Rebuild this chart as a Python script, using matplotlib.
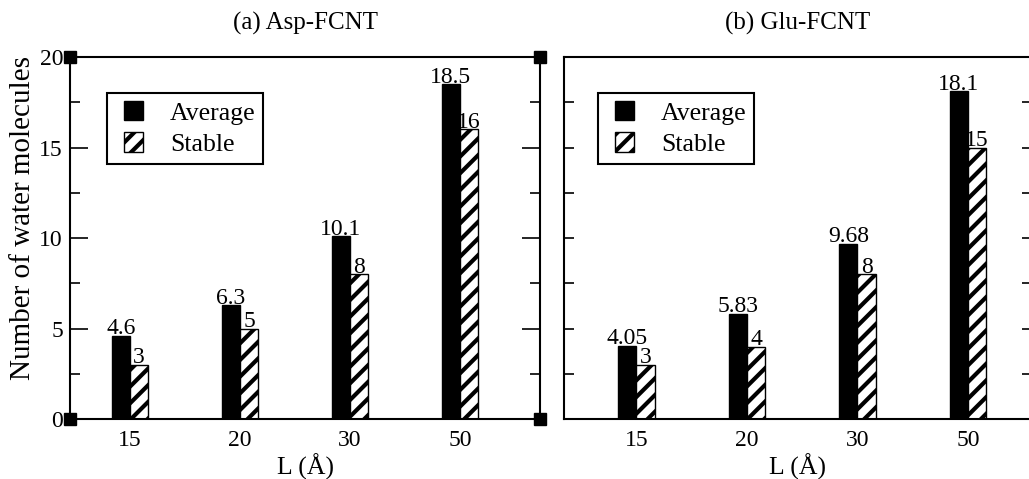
import numpy as np
import matplotlib
matplotlib.use("Agg")
import matplotlib.pyplot as plt
import matplotlib.patches as mpatches
from matplotlib.legend_handler import HandlerPatch

plt.rcParams['font.family'] = ['Liberation Serif', 'DejaVu Serif']
plt.rcParams['hatch.linewidth'] = 3.0

lengths = ['15', '20', '30', '50']
asp_average = [4.6, 6.3, 10.1, 18.5]
asp_stable = [3, 5, 8, 16]
glu_average = [4.05, 5.83, 9.68, 18.1]
glu_stable = [3, 4, 8, 15]

asp_avg_labels = ['4.6', '6.3', '10.1', '18.5']
asp_stb_labels = ['3', '5', '8', '16']
glu_avg_labels = ['4.05', '5.83', '9.68', '18.1']
glu_stb_labels = ['3', '4', '8', '15']

fig = plt.figure(figsize=(10.29, 4.79), dpi=100)
ax1 = fig.add_axes([0.068, 0.125, 0.457, 0.756])
ax2 = fig.add_axes([0.548, 0.125, 0.455, 0.756])

x = np.arange(len(lengths))
w = 0.165


# square legend key pushed to the right end of the handle box
def square_key(legend, orig_handle, xdescent, ydescent, width, height, fontsize):
    return mpatches.Rectangle((-xdescent + width - height, -ydescent), height, height)


def draw_panel(ax, avg, stb, avg_lab, stb_lab, title, legend_x, xlim, major_len):
    b1 = ax.bar(x - w / 2, avg, w, color='black', edgecolor='black', lw=1)
    b2 = ax.bar(x + w / 2, stb, w, color='white', edgecolor='black', lw=1, hatch='//')
    for rect, s in zip(b1, avg_lab):
        ax.text(rect.get_x() + rect.get_width() / 2, rect.get_height() - 0.2, s,
                ha='center', va='bottom', fontsize=17)
    for rect, s in zip(b2, stb_lab):
        ax.text(rect.get_x() + rect.get_width() / 2, rect.get_height() - 0.2, s,
                ha='center', va='bottom', fontsize=17)

    ax.set_xlim(*xlim)
    ax.set_ylim(0, 20)
    ax.set_xticks(x)
    ax.set_xticklabels(lengths)
    ax.set_yticks([0, 5, 10, 15, 20])
    ax.set_yticks(np.arange(2.5, 20, 5), minor=True)
    ax.tick_params(axis='x', length=0, pad=8, labelsize=17)
    ax.tick_params(axis='y', which='major', direction='in', length=major_len, width=1.2,
                   left=True, right=True, labelsize=17, pad=5)
    ax.tick_params(axis='y', which='minor', direction='in', length=7, width=1.2,
                   left=True, right=True)
    for sp in ax.spines.values():
        sp.set_linewidth(1.5)
    ax.set_xlabel('L (Å)', fontsize=18.5, labelpad=2)
    ax.set_title(title, fontsize=18, pad=20)

    leg = ax.legend([b1.patches[0], b2.patches[0]], ['Average', 'Stable'],
                    loc='upper left', bbox_to_anchor=(legend_x, 0.90), borderaxespad=0,
                    fontsize=18.5, fancybox=False, edgecolor='black', framealpha=1,
                    handlelength=1.1, handleheight=0.78, handletextpad=1.05,
                    borderpad=0.3, labelspacing=0.3,
                    handler_map={mpatches.Rectangle: HandlerPatch(patch_func=square_key)})
    leg.get_frame().set_linewidth(1.5)


draw_panel(ax1, asp_average, asp_stable, asp_avg_labels, asp_stb_labels,
           '(a) Asp-FCNT', 0.079, (-0.545, 3.73), 13)
draw_panel(ax2, glu_average, glu_stable, glu_avg_labels, glu_stb_labels,
           '(b) Glu-FCNT', 0.073, (-0.655, 3.58), 7)

ax1.set_ylabel('Number of water molecules', fontsize=21)
ax1.yaxis.set_label_coords(-0.073, 0.555)
ax2.tick_params(axis='y', labelleft=False)

# corner handles on the left panel
ax1.plot([0, 1, 0, 1], [0, 0, 1, 1], 's', color='black', ms=9,
         transform=ax1.transAxes, clip_on=False, zorder=5)

fig.savefig('out.png', dpi=100)
